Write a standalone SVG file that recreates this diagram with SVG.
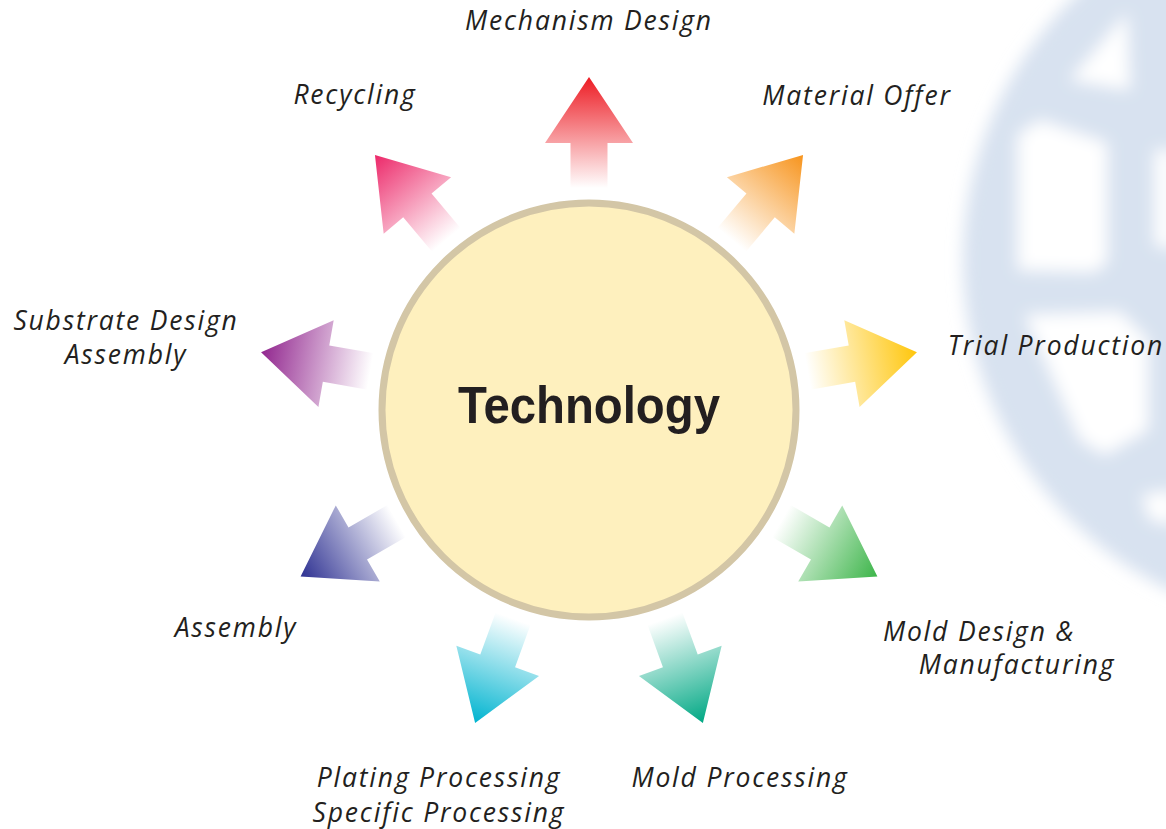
<svg xmlns="http://www.w3.org/2000/svg" width="1166" height="829" viewBox="0 0 1166 829">
<style>
.lbl{font-family:"Open Sans","Noto Sans","Liberation Sans",sans-serif;font-style:italic;font-size:26.5px;letter-spacing:1.8px;fill:#231F20;text-anchor:middle}
.ttl{font-family:"Liberation Sans",Arial,sans-serif;font-weight:bold;font-size:52px;fill:#231F20}
</style>
<defs>
<filter id="blur" x="-20%" y="-20%" width="140%" height="140%"><feGaussianBlur stdDeviation="8"/></filter>
<path id="arr" d="M220,-18.5 L267,-18.5 L267,-44 L333,0 L267,44 L267,18.5 L220,18.5 Z"/>
<linearGradient id="gRed" gradientUnits="userSpaceOnUse" x1="222" y1="0" x2="333" y2="0"><stop offset="0" stop-color="#ED1C24" stop-opacity="0"/><stop offset="1" stop-color="#ED1C24"/></linearGradient>
<linearGradient id="gOrange" gradientUnits="userSpaceOnUse" x1="222" y1="0" x2="333" y2="0"><stop offset="0" stop-color="#F7941D" stop-opacity="0"/><stop offset="1" stop-color="#F7941D"/></linearGradient>
<linearGradient id="gYellow" gradientUnits="userSpaceOnUse" x1="222" y1="0" x2="333" y2="0"><stop offset="0" stop-color="#FFC60B" stop-opacity="0"/><stop offset="1" stop-color="#FFC60B"/></linearGradient>
<linearGradient id="gGreen" gradientUnits="userSpaceOnUse" x1="222" y1="0" x2="333" y2="0"><stop offset="0" stop-color="#3DB54A" stop-opacity="0"/><stop offset="1" stop-color="#3DB54A"/></linearGradient>
<linearGradient id="gTeal" gradientUnits="userSpaceOnUse" x1="222" y1="0" x2="333" y2="0"><stop offset="0" stop-color="#00A884" stop-opacity="0"/><stop offset="1" stop-color="#00A884"/></linearGradient>
<linearGradient id="gCyan" gradientUnits="userSpaceOnUse" x1="222" y1="0" x2="333" y2="0"><stop offset="0" stop-color="#00B4D0" stop-opacity="0"/><stop offset="1" stop-color="#00B4D0"/></linearGradient>
<linearGradient id="gIndigo" gradientUnits="userSpaceOnUse" x1="222" y1="0" x2="333" y2="0"><stop offset="0" stop-color="#2E3192" stop-opacity="0"/><stop offset="1" stop-color="#2E3192"/></linearGradient>
<linearGradient id="gPurple" gradientUnits="userSpaceOnUse" x1="222" y1="0" x2="333" y2="0"><stop offset="0" stop-color="#92278F" stop-opacity="0"/><stop offset="1" stop-color="#92278F"/></linearGradient>
<linearGradient id="gPink" gradientUnits="userSpaceOnUse" x1="222" y1="0" x2="333" y2="0"><stop offset="0" stop-color="#EC2869" stop-opacity="0"/><stop offset="1" stop-color="#EC2869"/></linearGradient>
</defs>
<rect width="1166" height="829" fill="#FFFFFF"/>
<g id="watermark" filter="url(#blur)">
<circle cx="1330" cy="260" r="367" fill="#D8E2F0"/>
<g fill="#FFFFFF">
<polygon points="1018,135 1040,120 1107,143 1107,262 1095,272 1018,270"/>
<polygon points="1070,80 1127,13 1130,90"/>
<polygon points="1025,315 1120,312 1148,340 1148,430 1105,455 1080,440"/>
<polygon points="1155,150 1175,150 1175,250 1155,245"/>
<polygon points="1142,495 1175,490 1175,525 1150,520"/>
</g>
</g>
<g id="connectors">
<use href="#arr" fill="url(#gRed)" transform="translate(589,410) rotate(-90)"/>
<use href="#arr" fill="url(#gOrange)" transform="translate(589,410) rotate(-50)"/>
<use href="#arr" fill="url(#gYellow)" transform="translate(589,410) rotate(-10)"/>
<use href="#arr" fill="url(#gGreen)" transform="translate(589,410) rotate(30)"/>
<use href="#arr" fill="url(#gTeal)" transform="translate(589,410) rotate(70)"/>
<use href="#arr" fill="url(#gCyan)" transform="translate(589,410) rotate(110)"/>
<use href="#arr" fill="url(#gIndigo)" transform="translate(589,410) rotate(150)"/>
<use href="#arr" fill="url(#gPurple)" transform="translate(589,410) rotate(190)"/>
<use href="#arr" fill="url(#gPink)" transform="translate(589,410) rotate(230)"/>
</g>
<g id="technology">
<circle cx="589" cy="410" r="207" fill="#FEF0BE" stroke="#D3C6A6" stroke-width="7"/>
<text class="ttl" x="458" y="423" textLength="262" lengthAdjust="spacingAndGlyphs">Technology</text>
</g>
<g id="mechanism-design"><text class="lbl" x="589" y="30">Mechanism Design</text></g>
<g id="material-offer"><text class="lbl" x="857" y="105">Material Offer</text></g>
<g id="trial-production"><text class="lbl" x="1056" y="355">Trial Production</text></g>
<g id="mold-design"><text class="lbl" x="979" y="641">Mold Design &amp;</text><text class="lbl" x="1017" y="674">Manufacturing</text></g>
<g id="mold-processing"><text class="lbl" x="740" y="787">Mold Processing</text></g>
<g id="plating-processing"><text class="lbl" x="439" y="787">Plating Processing</text><text class="lbl" x="439" y="822">Specific Processing</text></g>
<g id="assembly"><text class="lbl" x="236" y="637">Assembly</text></g>
<g id="substrate-design"><text class="lbl" x="126" y="330">Substrate Design</text><text class="lbl" x="126" y="364">Assembly</text></g>
<g id="recycling"><text class="lbl" x="355" y="104">Recycling</text></g>
</svg>
